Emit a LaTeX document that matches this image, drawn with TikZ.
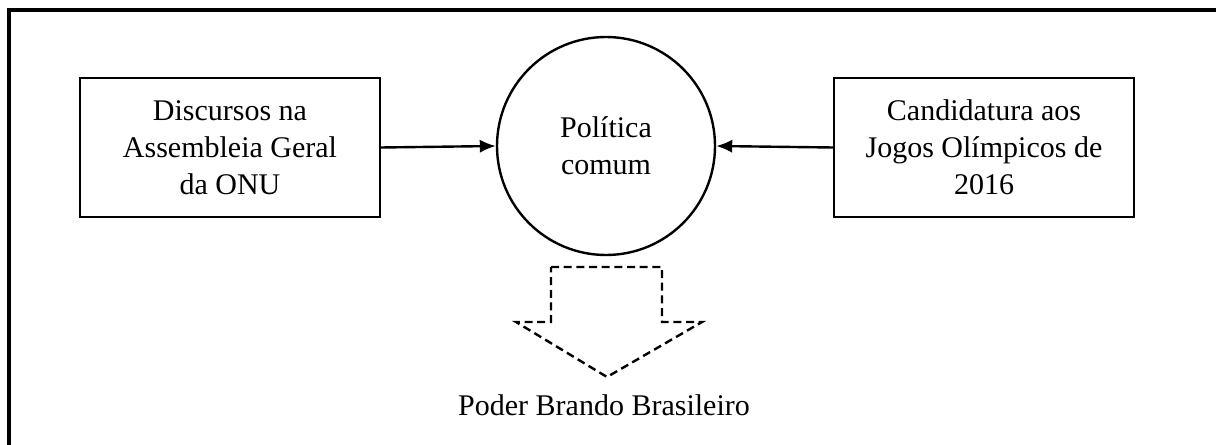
\documentclass[tikz,border=0pt]{standalone}
\usepackage{fontspec}
\setmainfont{Liberation Serif}
\usepackage{tikz}
\usetikzlibrary{arrows.meta}

\tikzset{
  txt/.style={font=\fontsize{22.5}{27.75}\selectfont, align=center},
  caixa/.style={txt, draw, line width=1.8pt, minimum width=225pt, minimum height=104pt, inner sep=0pt},
  seta/.style={line width=1.8pt, -{Latex[length=12pt,width=10pt]}}
}

\begin{document}
\begin{tikzpicture}[x=0.75pt, y=-0.75pt]
        \useasboundingbox (0,0) rectangle (1216,445);
        \draw[line width=2.3pt] (9,445) -- (9,10) -- (1216,10);
        \node[caixa] (discursos) at (230,147.5) {Discursos na\\Assembleia Geral\\da ONU};
        \node[caixa] (candidatura) at (984,147.5) {Candidatura aos\\Jogos Olímpicos de\\2016};
        \node[txt, draw, circle, line width=1.8pt, minimum size=163.5pt, inner sep=0pt] (politica) at (606,146) {Política\\comum};
        \draw[seta] (discursos.east) -- (politica.west);
        \draw[seta] (candidatura.west) -- (politica.east);
        \draw[line width=1.8pt, dash pattern=on 6pt off 3.5pt]
          (551,267) -- (662,267) -- (662,322) -- (702,322) -- (607,377) -- (516,322) -- (551,322) -- cycle;
        \node[txt, anchor=base] (poder) at (604,415) {Poder Brando Brasileiro};
      \end{tikzpicture}
\end{document}
